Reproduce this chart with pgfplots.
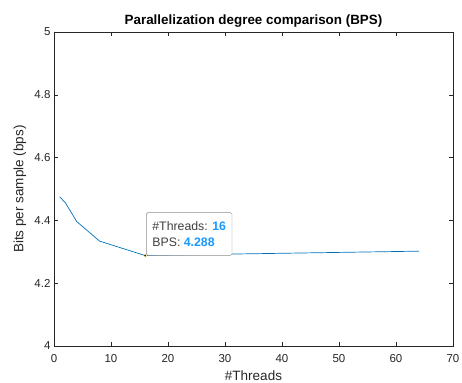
\documentclass[border=0pt]{standalone}
\usepackage{pgfplots}
\pgfplotsset{compat=1.18}
\usepackage{fontspec}
\setmainfont{Liberation Sans}
\definecolor{mline}{rgb}{0,0.447,0.741}
\definecolor{tipblue}{rgb}{0.1,0.6,1}
\definecolor{axgray}{rgb}{0.15,0.15,0.15}
\begin{document}
\begin{tikzpicture}
\useasboundingbox (0,0) rectangle (462bp,383bp);
\begin{axis}[
  at={(54bp,37bp)}, anchor=south west,
  scale only axis, width=399bp, height=314bp,
  xmin=0, xmax=70, ymin=4, ymax=5,
  xtick={0,10,...,70}, ytick={4,4.2,4.4,4.6,4.8,5},
  yticklabels={4,4.2,4.4,4.6,4.8,5},
  tick align=inside, tick pos=both,
  major tick length=4bp,
  axis line style={axgray, line width=0.5pt},
  tick style={axgray, line width=0.5pt},
  tick label style={text=axgray, font=\fontsize{11.5bp}{13bp}\selectfont},
  xticklabel style={yshift=-5bp},
  /pgf/number format/assume math mode=true,
  title={\bfseries Parallelization degree comparison (BPS)},
  title style={font=\fontsize{13.4bp}{15bp}\selectfont, yshift=-5bp},
  xlabel={\#Threads}, ylabel={Bits per sample (bps)},
  label style={font=\fontsize{13.5bp}{15bp}\selectfont, text=axgray},
  xlabel style={at={(axis description cs:0.5,0)}, anchor=center, yshift=-30bp},
  ylabel style={at={(axis description cs:0,0.5)}, anchor=center, yshift=34bp},
]
\addplot[mline, line width=0.7pt] coordinates {
(1,4.475) (2,4.456) (4,4.396) (8,4.334) (16,4.288) (32,4.293) (64,4.302)
};
\addplot[only marks, mark=*, mark size=1.6pt, mark options={fill=black!90, draw=yellow!40!white, line width=0.4pt}] coordinates {(16,4.288)}
  node[anchor=south west, draw=black!45, fill=white, rounded corners=1.5pt, align=left, inner xsep=6bp, inner ysep=8.5bp, xshift=1bp, yshift=0bp, font=\fontsize{12.3bp}{16.7bp}\selectfont, text=black!75]
  {\#Threads: \textcolor{tipblue}{\bfseries 16}\\BPS: \textcolor{tipblue}{\bfseries 4.288}};
\end{axis}
\end{tikzpicture}
\end{document}
